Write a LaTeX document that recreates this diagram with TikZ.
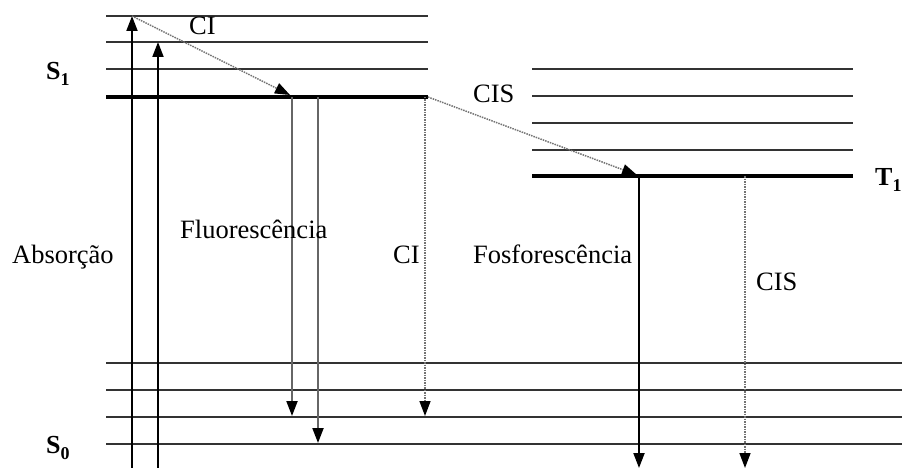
\documentclass[tikz,border=0pt]{standalone}
\usepackage{fontspec}
\setmainfont{Liberation Serif}
\usetikzlibrary{arrows.meta}
\newcommand{\statelabel}[2]{#1\raisebox{-6pt}{\fontsize{18}{18}\selectfont #2}}
\begin{document}
\begin{tikzpicture}[x=1pt,y=-1pt,
  level/.style={line width=2pt, draw=black!80},
  ground/.style={line width=4pt, draw=black},
  lbl/.style={anchor=base west, inner sep=0pt, font=\fontsize{26.5}{30}\selectfont},
  statetxt/.style={anchor=base west, inner sep=0pt, font=\bfseries\fontsize{26}{30}\selectfont},
  tipT/.style={-{Triangle[width=11pt,length=15pt,color=black]}},
  absarrow/.style={tipT, line width=2pt, draw=black},
  radarrow/.style={tipT, line width=2pt, draw=black!60},
  nonrad/.style={tipT, line width=1.5pt, draw=black!55, dash pattern=on 1.5pt off 1pt}]
\useasboundingbox (0,0) rectangle (902,468);
\clip (0,0) rectangle (902,468);

% vibrational levels of S1
\foreach \y in {16,42,69} \draw[level] (106,\y) -- (428,\y);
\draw[ground] (106,97) -- (428,97);

% vibrational levels of T1
\foreach \y in {69,96,123,150} \draw[level] (532,\y) -- (853,\y);
\draw[ground] (532,176) -- (853,176);

% vibrational levels of S0
\foreach \y in {363,390,417,444} \draw[level] (106,\y) -- (905,\y);
\draw[level, draw=black!30] (106,468.5) -- (905,468.5);

% end points of the transitions
\coordinate (base1) at (132,472);
\coordinate (base2) at (158,472);
\coordinate (v3) at (132,16);
\coordinate (v2) at (158,42);
\coordinate (s1low) at (290,95);
\coordinate (f1top) at (292,97);
\coordinate (f1end) at (292,416);
\coordinate (f2top) at (318,97);
\coordinate (f2end) at (318,443);
\coordinate (icstart) at (425,97);
\coordinate (icend) at (425,416);
\coordinate (iscstart) at (428,97);
\coordinate (t1low) at (637,175);
\coordinate (ptop) at (639,176);
\coordinate (pend) at (639,468);
\coordinate (isc2top) at (745,176);
\coordinate (isc2end) at (745,468);

% absorption
\draw[absarrow] (base1) -- (v3);
\draw[absarrow] (base2) -- (v2);
% internal conversion and intersystem crossing
\draw[nonrad] (v3) -- (s1low);
\draw[nonrad] (iscstart) -- (t1low);
\draw[nonrad] (icstart) -- (icend);
\draw[nonrad] (isc2top) -- (isc2end);
% fluorescence
\draw[radarrow] (f1top) -- (f1end);
\draw[radarrow] (f2top) -- (f2end);
% phosphorescence
\draw[absarrow] (ptop) -- (pend);

% state labels
\node[statetxt] (lS1) at (46,80) {\statelabel{S}{1}};
\node[statetxt] (lS0) at (46,453) {\statelabel{S}{0}};
\node[statetxt] (lT1) at (875,185) {\statelabel{T}{1}};

% process labels
\node[lbl] (lci1) at (189,35) {CI};
\node[lbl] (lcis1) at (473,103) {CIS};
\node[lbl] (lfl) at (180,238) {Fluorescência};
\node[lbl] (labs) at (12,263) {Absorção};
\node[lbl] (lci2) at (393,263) {CI};
\node[lbl] (lfos) at (473,263) {Fosforescência};
\node[lbl] (lcis2) at (756,290) {CIS};
\end{tikzpicture}
\end{document}
